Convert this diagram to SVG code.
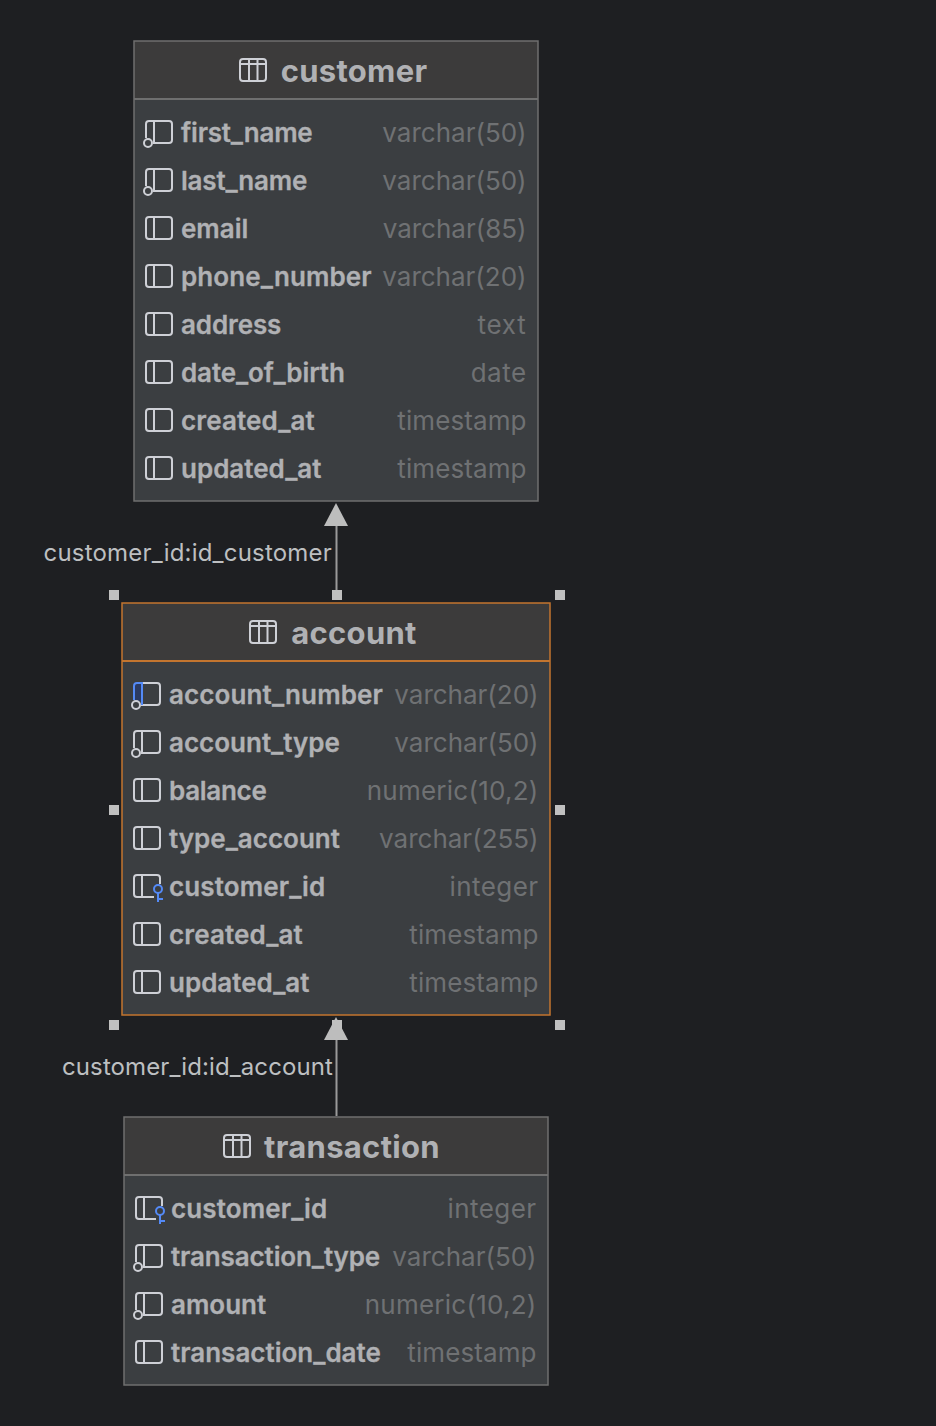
<svg xmlns="http://www.w3.org/2000/svg" width="936" height="1426" viewBox="0 0 936 1426">
<style>
.hdr{fill:#3c3b3b}
.body{fill:#3b3e41}
.bd{fill:none;stroke:#6f6f6f;stroke-width:1.500}
.sep{stroke:#6f6f6f;stroke-width:2}
.sel .bd{stroke:#c3752f}
.sel .sep{stroke:#c3752f}
.title{font:700 31px Inter,"Liberation Sans",sans-serif;fill:#b0b1b4;text-anchor:middle;letter-spacing:.3px}
.n{font:600 26px Inter,"Liberation Sans",sans-serif;fill:#b0b1b4;stroke:#b0b1b4;stroke-width:.3}
.t{font:400 26px Inter,"Liberation Sans",sans-serif;fill:#6f7173;text-anchor:end}
.lbl{font:400 24px Inter,"Liberation Sans",sans-serif;fill:#bdbfc1;text-anchor:end;letter-spacing:.2px}
.ic{fill:none;stroke:#ced0d6;stroke-width:2}
.key{fill:none;stroke:#548af7;stroke-width:2}
.h{fill:#c0c0c0}
.cn{stroke:#9a9a9a;stroke-width:2;fill:none}
.ah{fill:#bdbdbd}
.a{letter-spacing:-.2px}
.b{letter-spacing:-.3px}
.c{letter-spacing:.12px}
.d{letter-spacing:-.12px}
.e{letter-spacing:.75px}
.f{letter-spacing:.5px}
.g{letter-spacing:.45px}
.i{letter-spacing:.25px}
.j{letter-spacing:.1px}
</style>
<defs>
<g id="tbl"><rect class="ic" x="1" y="1" width="26" height="22" rx="3"/><path class="ic" d="M1 6H27M10 1V23M18.500 1V23"/></g>
<g id="col"><rect class="ic" x="1" y="0" width="26" height="22" rx="3"/><path class="ic" d="M9 0V22"/></g>
<g id="colnn"><path class="ic" d="M8 22H24Q27 22 27 19V3Q27 0 24 0H4Q1 0 1 3V17M9 0V22"/><circle cx="3" cy="22" r="4" fill="#3b3e41" class="ic"/></g>
<g id="colpk"><path class="ic" d="M9 0H24Q27 0 27 3V19Q27 22 24 22H8"/><path fill="#2b3b63" d="M1 1H9V18H1Z"/><path class="key" d="M1 17V3Q1 0 4 0H9V22"/><circle cx="3" cy="22" r="4" fill="#3b3e41" class="ic"/></g>
<g id="colfk"><path class="ic" d="M21 22H4Q1 22 1 19V3Q1 0 4 0H24Q27 0 27 3V9M9 0V22"/><circle class="key" cx="25" cy="14" r="4"/><path class="key" d="M25 18V27M25 24H30"/></g>
</defs>
<rect width="936" height="1426" fill="#1e1f22"/>

<g id="connectors">
<path class="cn" d="M336.500 594V522"/>
<path class="ah" d="M336 503L348 526H324Z"/>
<path class="cn" d="M336.500 1116V1036"/>
<path class="ah" d="M336 1017L348 1040H324Z"/>
<text class="lbl" x="332" y="561">customer_id:id_customer</text>
<text class="lbl j" x="333" y="1075">customer_id:id_account</text>
</g>

<g id="customer">
<rect class="body" x="134" y="41" width="404" height="460"/>
<rect class="hdr" x="134" y="41" width="404" height="58"/>
<path class="sep" d="M134 99H538"/>
<rect class="bd" x="134" y="41" width="404" height="460"/>
<use href="#tbl" x="239" y="58"/>
<text class="title" x="354" y="82">customer</text>
<use href="#colnn" x="145" y="121"/><text class="n a" x="181" y="142">first_name</text><text class="t" x="526.600" y="142">varchar(50)</text>
<use href="#colnn" x="145" y="169"/><text class="n a" x="181" y="190">last_name</text><text class="t" x="526.600" y="190">varchar(50)</text>
<use href="#col" x="145" y="217"/><text class="n" x="181" y="238">email</text><text class="t" x="526.600" y="238">varchar(85)</text>
<use href="#col" x="145" y="265"/><text class="n j" x="181" y="286">phone_number</text><text class="t" x="526.600" y="286">varchar(20)</text>
<use href="#col" x="145" y="313"/><text class="n d" x="181" y="334">address</text><text class="t e" x="526.600" y="334">text</text>
<use href="#col" x="145" y="361"/><text class="n d" x="181" y="382">date_of_birth</text><text class="t f" x="526.600" y="382">date</text>
<use href="#col" x="145" y="409"/><text class="n c" x="181" y="430">created_at</text><text class="t j" x="526.600" y="430">timestamp</text>
<use href="#col" x="145" y="457"/><text class="n" x="181" y="478">updated_at</text><text class="t j" x="526.600" y="478">timestamp</text>
</g>

<g id="account" class="sel">
<rect class="body" x="122" y="603" width="428" height="412"/>
<rect class="hdr" x="122" y="603" width="428" height="58"/>
<path class="sep" d="M122 661H550"/>
<rect class="bd" x="122" y="603" width="428" height="412"/>
<use href="#tbl" x="249" y="620"/>
<text class="title" x="354" y="644">account</text>
<use href="#colpk" x="133" y="683"/><text class="n c" x="169" y="704">account_number</text><text class="t" x="538.600" y="704">varchar(20)</text>
<use href="#colnn" x="133" y="731"/><text class="n" x="169" y="752">account_type</text><text class="t" x="538.600" y="752">varchar(50)</text>
<use href="#col" x="133" y="779"/><text class="n b" x="169" y="800">balance</text><text class="t i" x="538.600" y="800">numeric(10,2)</text>
<use href="#col" x="133" y="827"/><text class="n" x="169" y="848">type_account</text><text class="t" x="538.600" y="848">varchar(255)</text>
<use href="#colfk" x="133" y="875"/><text class="n c" x="169" y="896">customer_id</text><text class="t g" x="538.600" y="896">integer</text>
<use href="#col" x="133" y="923"/><text class="n c" x="169" y="944">created_at</text><text class="t j" x="538.600" y="944">timestamp</text>
<use href="#col" x="133" y="971"/><text class="n" x="169" y="992">updated_at</text><text class="t j" x="538.600" y="992">timestamp</text>
</g>

<g id="selection-handles">
<rect class="h" x="109" y="590" width="10" height="10"/>
<rect class="h" x="332" y="590" width="10" height="10"/>
<rect class="h" x="555" y="590" width="10" height="10"/>
<rect class="h" x="109" y="805" width="10" height="10"/>
<rect class="h" x="555" y="805" width="10" height="10"/>
<rect class="h" x="109" y="1020" width="10" height="10"/>
<rect class="h" x="332" y="1020" width="10" height="10"/>
<rect class="h" x="555" y="1020" width="10" height="10"/>
</g>

<g id="transaction">
<rect class="body" x="124" y="1117" width="424" height="268"/>
<rect class="hdr" x="124" y="1117" width="424" height="58"/>
<path class="sep" d="M124 1175H548"/>
<rect class="bd" x="124" y="1117" width="424" height="268"/>
<use href="#tbl" x="223" y="1134"/>
<text class="title" x="352" y="1158">transaction</text>
<use href="#colfk" x="135" y="1197"/><text class="n c" x="171" y="1218">customer_id</text><text class="t g" x="536.600" y="1218">integer</text>
<use href="#colnn" x="135" y="1245"/><text class="n d" x="171" y="1266">transaction_type</text><text class="t" x="536.600" y="1266">varchar(50)</text>
<use href="#colnn" x="135" y="1293"/><text class="n" x="171" y="1314">amount</text><text class="t i" x="536.600" y="1314">numeric(10,2)</text>
<use href="#col" x="135" y="1341"/><text class="n" x="171" y="1362">transaction_date</text><text class="t j" x="536.600" y="1362">timestamp</text>
</g>
</svg>
